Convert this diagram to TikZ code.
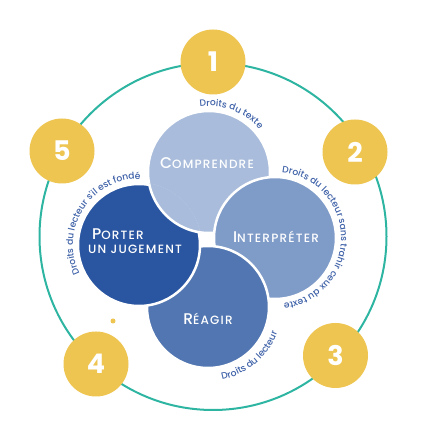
\documentclass[tikz,border=0pt]{standalone}
\usepackage{fontspec}
\setmainfont{Poppins}
\newfontfamily\titlefont{Poppins Medium}[LetterSpace=10]
\newfontfamily\lblfontfam{Poppins Medium}
\usetikzlibrary{decorations.text}
\definecolor{teal1}{HTML}{2DB5A2}
\definecolor{gold}{HTML}{EDC550}
\definecolor{cC}{HTML}{A9BCDB}
\definecolor{cI}{HTML}{7F9BC8}
\definecolor{cR}{HTML}{5176B1}
\definecolor{cP}{HTML}{2A55A0}
\definecolor{lbl}{HTML}{3F62A8}
\newcommand{\scap}[2]{{\titlefont\fontsize{15.5}{15.5}\selectfont #1}{\titlefont\fontsize{12}{12}\selectfont #2}}
\begin{document}
\begin{tikzpicture}[x=1pt,y=1pt,
  numdot/.style={circle, fill=gold, minimum size=65pt, inner sep=0pt, text=white, font=\fontsize{27}{27}\selectfont\bfseries},
  petal/.style={draw=white, line width=2.5pt},
  title/.style={text=white, inner sep=0pt},
  curvelbl/.style={decorate, decoration={text along path, text align=left, text color=lbl, text={|\lblfontfam\fontsize{9.2}{9.2}\selectfont|#1}}}
]
\useasboundingbox (0,0) rectangle (426,425);
\coordinate (O) at (213,188.5);
\draw[teal1, line width=2pt] (O) circle (173.5);
\node[numdot] (n1) at (213,363) {1};
\node[numdot] (n2) at (355,273) {2};
\node[numdot] (n3) at (335.5,69.5) {3};
\node[numdot] (n4) at (96,61) {4};
\node[numdot] (n5) at (62,274) {5};
\fill[gold] (113,104) circle (2.5);

\coordinate (C) at (209,253);
\coordinate (I) at (275,187);
\coordinate (R) at (208,118);
\coordinate (P) at (139,180);
\path[fill=cC, petal] (C) circle (61);
\path[fill=cI, petal] (I) circle (61);
\path[fill=cR, petal] (R) circle (61);
\path[fill=cP, petal] (P) circle (61);
\begin{scope}
  \clip (P) circle (62.5);
  \path[fill=cC, petal] (C) circle (61);
\end{scope}

\node[title] (tC) at (207,262) {\scap{C}{OMPRENDRE}};
\node[title] (tI) at (276,188) {\scap{I}{NTERPRÉTER}};
\node[title, align=left] (tP) at (135,184) {\hspace{4pt}\scap{P}{ORTER}\\[2pt]\scap{}{UN JUGEMENT}};
\node[title] (tR) at (208,106) {\scap{R}{ÉAGIR}};

\path[curvelbl={Droits du texte}] (C) ++(98:66) arc[start angle=98, end angle=10, radius=66];
\path[curvelbl={Droits du lecteur sans trahir ceux du texte}] (I) ++(84:66) arc[start angle=84, end angle=-110, radius=66];
\path[curvelbl={Droits du lecteur}] (R) ++(-79:74) arc[start angle=-79, end angle=20, radius=74];
\path[curvelbl={Droits du lecteur s'il est fondé}] (P) ++(206:66) arc[start angle=206, end angle=50, radius=66];
\end{tikzpicture}
\end{document}
